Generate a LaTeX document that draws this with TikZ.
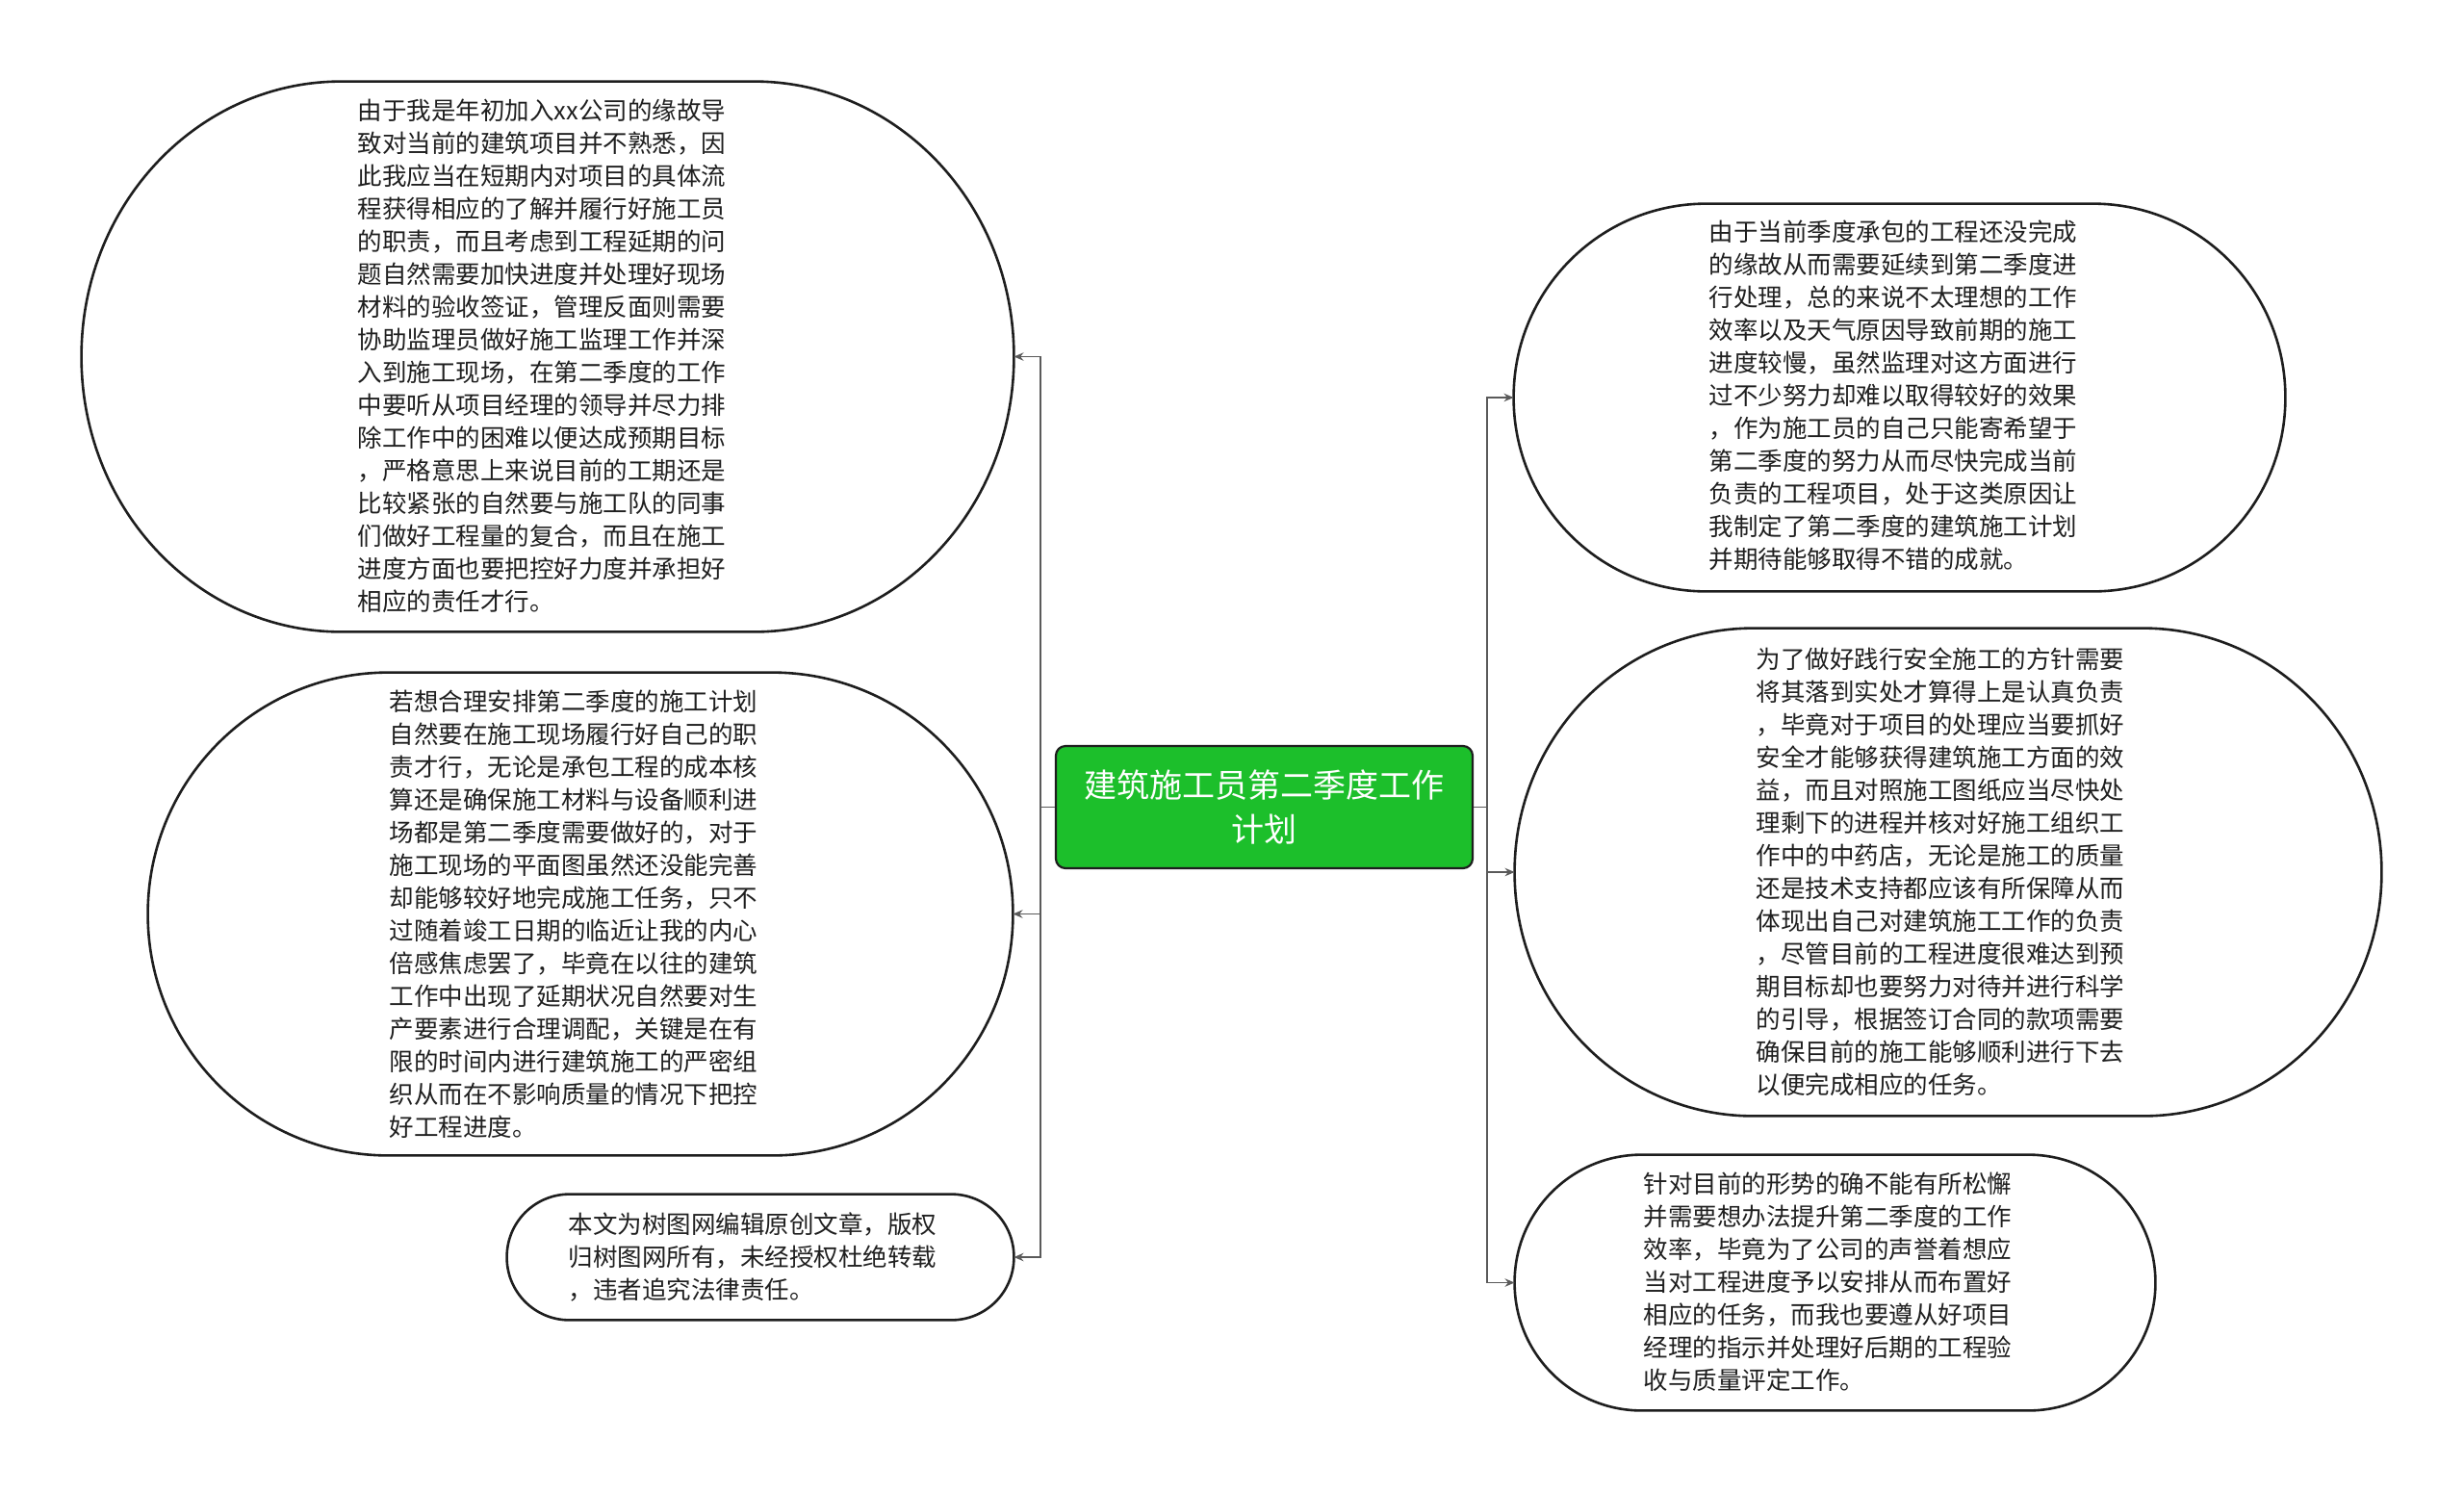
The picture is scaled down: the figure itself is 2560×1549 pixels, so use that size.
\documentclass[tikz,border=0pt]{standalone}
\usepackage{fontspec}
\setmainfont{Noto Sans CJK SC}
\usetikzlibrary{arrows.meta}
\definecolor{cgreen}{HTML}{1CBF2B}
\definecolor{conncol}{HTML}{5A5A5A}
\definecolor{outl}{HTML}{1E1E1E}
\newcommand\drawblob[3]{%
  \draw[blobline] ([xshift=#2]#1.north west) -- ([xshift=-#2]#1.north east)
    arc[start angle=90,end angle=0,x radius=#2,y radius=#3]
    -- ([yshift=#3]#1.south east)
    arc[start angle=0,end angle=-90,x radius=#2,y radius=#3]
    -- ([xshift=#2]#1.south west)
    arc[start angle=-90,end angle=-180,x radius=#2,y radius=#3]
    -- ([yshift=-#3]#1.north west)
    arc[start angle=180,end angle=90,x radius=#2,y radius=#3]
    -- cycle;}
\tikzset{
  blobline/.style={draw=outl,line width=1.3pt,fill=white},
  boxarea/.style={rectangle,inner sep=0pt,draw=none},
  bodytext/.style={inner sep=0pt,align=left,text=black!88,font=\fontsize{12.75pt}{17pt}\selectfont},
  centralbox/.style={rectangle,rounded corners=5pt,fill=cgreen,draw=outl,line width=1.1pt,
     minimum width=216.5pt,minimum height=63.5pt,inner sep=0pt,align=center,text=white,
     font=\fontsize{17pt}{22.8pt}\selectfont},
  conn/.style={draw=conncol,line width=0.9pt,-{Stealth[length=5pt,width=4.2pt]}},
}
\begin{document}
\begin{tikzpicture}[x=0.5pt,y=-0.5pt]
\useasboundingbox (0,0) rectangle (2560,1549);
\fill[white] (0,0) rectangle (2560,1549);

% shape areas
\node[boxarea,minimum width=484pt,minimum height=285.5pt] (L1) at (569,370.5) {};
\node[boxarea,minimum width=449pt,minimum height=250.5pt] (L2) at (603,949.5) {};
\node[boxarea,minimum width=263pt,minimum height=65pt] (L3) at (790,1306) {};
\node[boxarea,minimum width=400.5pt,minimum height=201pt] (R1) at (1973.5,413) {};
\node[boxarea,minimum width=450pt,minimum height=253pt] (R2) at (2024,906) {};
\node[boxarea,minimum width=332.5pt,minimum height=132.5pt] (R3) at (1906.5,1332.5) {};

\drawblob{L1}{135pt}{142.75pt}
\drawblob{L2}{125pt}{125.25pt}
\drawblob{L3}{32.5pt}{32.5pt}
\drawblob{R1}{100pt}{100.5pt}
\drawblob{R2}{124pt}{126.5pt}
\drawblob{R3}{66pt}{66.25pt}

\node[centralbox] (C) at (1313.5,838.5) {建筑施工员第二季度工作\\计划};

% trunk coordinates
\coordinate (jl) at (1081,838.5);
\coordinate (jr) at (1545,838.5);

\draw[conn] (C.west) -- (C.west -| jl) |- (L1.east);
\draw[conn] (C.west) -- (C.west -| jl) |- (L2.east);
\draw[conn] (C.west) -- (C.west -| jl) |- (L3.east);
\draw[conn] (C.east) -- (C.east -| jr) |- (R1.west);
\draw[conn] (C.east) -- (C.east -| jr) |- (R2.west);
\draw[conn] (C.east) -- (C.east -| jr) |- (R3.west);

% texts
\node[bodytext] (L1t) at (563,370) {由于我是年初加入xx公司的缘故导\\致对当前的建筑项目并不熟悉，因\\此我应当在短期内对项目的具体流\\程获得相应的了解并履行好施工员\\的职责，而且考虑到工程延期的问\\题自然需要加快进度并处理好现场\\材料的验收签证，管理反面则需要\\协助监理员做好施工监理工作并深\\入到施工现场，在第二季度的工作\\中要听从项目经理的领导并尽力排\\除工作中的困难以便达成预期目标\\，严格意思上来说目前的工期还是\\比较紧张的自然要与施工队的同事\\们做好工程量的复合，而且在施工\\进度方面也要把控好力度并承担好\\相应的责任才行。};

\node[bodytext] (L2t) at (596,949.5) {若想合理安排第二季度的施工计划\\自然要在施工现场履行好自己的职\\责才行，无论是承包工程的成本核\\算还是确保施工材料与设备顺利进\\场都是第二季度需要做好的，对于\\施工现场的平面图虽然还没能完善\\却能够较好地完成施工任务，只不\\过随着竣工日期的临近让我的内心\\倍感焦虑罢了，毕竟在以往的建筑\\工作中出现了延期状况自然要对生\\产要素进行合理调配，关键是在有\\限的时间内进行建筑施工的严密组\\织从而在不影响质量的情况下把控\\好工程进度。};

\node[bodytext] (L3t) at (782,1306) {本文为树图网编辑原创文章，版权\\归树图网所有，未经授权杜绝转载\\，违者追究法律责任。};

\node[bodytext] (R1t) at (1967,411) {由于当前季度承包的工程还没完成\\的缘故从而需要延续到第二季度进\\行处理，总的来说不太理想的工作\\效率以及天气原因导致前期的施工\\进度较慢，虽然监理对这方面进行\\过不少努力却难以取得较好的效果\\，作为施工员的自己只能寄希望于\\第二季度的努力从而尽快完成当前\\负责的工程项目，处于这类原因让\\我制定了第二季度的建筑施工计划\\并期待能够取得不错的成就。};

\node[bodytext] (R2t) at (2016,906) {为了做好践行安全施工的方针需要\\将其落到实处才算得上是认真负责\\，毕竟对于项目的处理应当要抓好\\安全才能够获得建筑施工方面的效\\益，而且对照施工图纸应当尽快处\\理剩下的进程并核对好施工组织工\\作中的中药店，无论是施工的质量\\还是技术支持都应该有所保障从而\\体现出自己对建筑施工工作的负责\\，尽管目前的工程进度很难达到预\\期目标却也要努力对待并进行科学\\的引导，根据签订合同的款项需要\\确保目前的施工能够顺利进行下去\\以便完成相应的任务。};

\node[bodytext] (R3t) at (1899,1332) {针对目前的形势的确不能有所松懈\\并需要想办法提升第二季度的工作\\效率，毕竟为了公司的声誉着想应\\当对工程进度予以安排从而布置好\\相应的任务，而我也要遵从好项目\\经理的指示并处理好后期的工程验\\收与质量评定工作。};
\end{tikzpicture}
\end{document}
